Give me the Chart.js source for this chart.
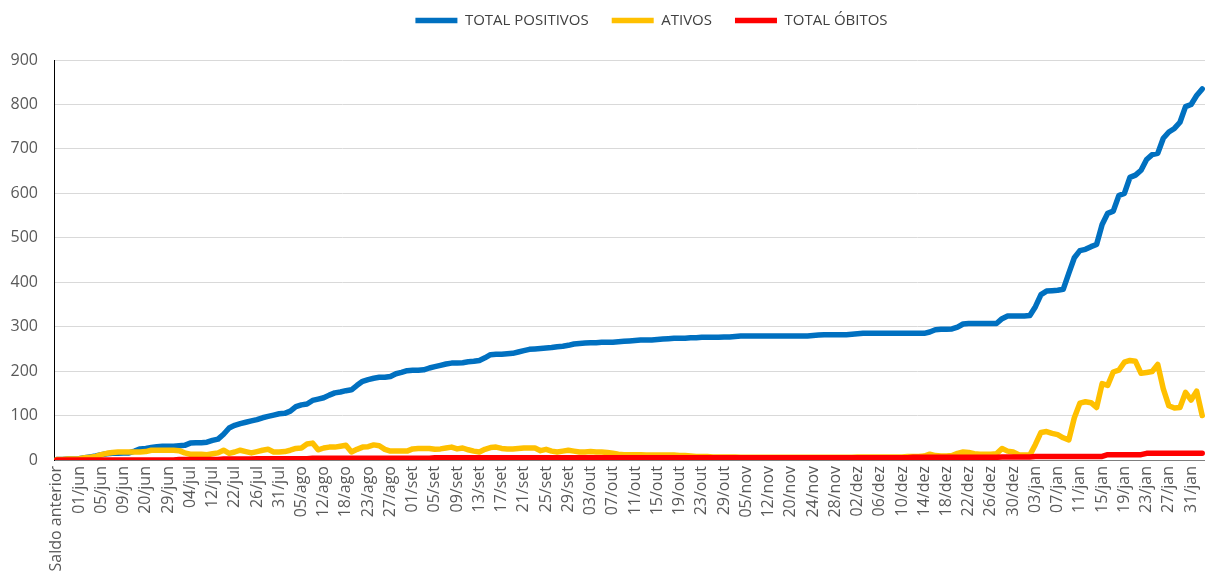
<!DOCTYPE html>
<html>
<head>
<meta charset="utf-8">
<script src="https://cdn.jsdelivr.net/npm/chart.js@4.4.1/dist/chart.umd.min.js"></script>
<style>
  html, body { margin: 0; padding: 0; background: #fff; }
  #wrap { width: 1205px; height: 575px; }
</style>
</head>
<body>
<div id="wrap"><canvas id="casesChart"></canvas></div>
<script>
// ─── Data ──────────────────────────────────────────────────────────────────────
// one tick label every 4 categories (as in the source spreadsheet)
const LABEL_STEP = 4;
const tickLabels = [
  "Saldo anterior","01/jun","05/jun","09/jun","20/jun","29/jun","04/jul","12/jul","22/jul","26/jul",
  "31/jul","05/ago","12/ago","18/ago","23/ago","27/ago","01/set","05/set","09/set","13/set",
  "17/set","21/set","25/set","29/set","03/out","07/out","11/out","15/out","19/out","23/out",
  "29/out","05/nov","12/nov","20/nov","24/nov","28/nov","02/dez","06/dez","10/dez","14/dez",
  "18/dez","22/dez","26/dez","30/dez","03/jan","07/jan","11/jan","15/jan","19/jan","23/jan",
  "27/jan","31/jan"
];

const totalPositivos = [
  1,1,2,2,3,5,7,9,12,14,
  15,15,16,16,20,25,26,28,30,31,
  31,31,32,33,38,39,39,40,44,47,
  58,72,78,82,85,88,91,95,98,101,
  104,105,110,120,124,126,134,137,140,146,
  151,153,156,158,168,177,181,184,186,186,
  188,194,197,201,202,202,203,207,210,213,
  216,218,218,219,221,222,224,230,237,238,
  238,239,240,243,246,249,250,251,252,253,
  255,256,258,261,262,263,264,264,265,265,
  265,266,267,268,269,270,270,270,271,272,
  273,274,274,274,275,275,276,276,276,276,
  277,277,278,279,279,279,279,279,279,279,
  279,279,279,279,279,279,280,281,282,282,
  282,282,282,283,284,285,285,285,285,285,
  285,285,285,285,285,285,285,288,293,294,
  294,295,299,306,307,307,307,307,307,307,
  318,324,324,324,324,325,345,372,380,381,
  382,384,420,455,471,474,480,485,530,555,
  560,595,600,636,641,652,676,687,690,724,
  738,746,760,795,800,820,835
];

const ativos = [
  1,1,2,2,3,5,6,8,12,15,
  17,18,18,18,18,18,19,22,22,22,
  22,22,21,16,13,13,13,12,14,16,
  22,15,18,22,19,16,19,22,24,18,
  18,19,22,26,27,36,38,23,27,29,
  29,31,33,18,24,29,30,34,32,24,
  20,20,20,20,25,26,26,26,24,25,
  27,29,25,27,23,20,18,24,28,29,
  26,25,25,26,27,27,27,21,24,20,
  18,20,22,20,18,18,19,18,18,17,
  15,13,12,12,12,12,11,11,11,11,
  11,11,10,10,9,8,8,8,7,7,
  7,7,7,6,6,6,6,6,6,6,
  6,6,6,6,6,6,6,6,6,6,
  6,6,6,6,7,7,7,7,7,7,
  7,7,7,8,8,8,9,13,10,9,
  9,10,15,18,17,14,13,13,13,14,
  26,20,18,12,11,11,35,62,64,60,
  57,50,45,95,128,131,129,118,172,168,
  198,202,220,224,222,195,197,199,215,160,
  122,117,118,152,135,155,100
];

const totalObitos = [
  0,0,0,0,0,0,0,0,0,0,
  0,0,0,0,0,0,0,0,0,0,
  0,0,1,1,1,1,1,1,1,1,
  2,2,2,2,2,2,3,3,3,3,
  3,3,3,3,3,3,4,4,4,4,
  4,4,4,4,4,4,4,4,4,4,
  4,4,4,4,4,4,4,4,5,5,
  5,5,5,5,5,5,5,5,5,5,
  5,5,5,5,5,5,5,5,5,5,
  5,5,5,5,5,5,5,5,5,5,
  5,5,5,5,5,5,5,5,5,5,
  5,5,5,5,5,5,5,5,5,5,
  5,5,5,5,5,5,5,5,5,5,
  5,5,5,5,5,5,5,5,5,5,
  5,5,5,5,5,5,5,5,5,5,
  5,5,5,5,6,6,6,6,6,6,
  6,6,6,6,6,6,6,6,6,6,
  7,7,7,7,7,7,8,8,8,8,
  8,8,8,8,8,8,8,8,8,12,
  12,12,12,12,12,12,15,15,15,15,
  15,15,15,15,15,15,15
];

const categories = totalPositivos.map((_, i) => i % LABEL_STEP === 0 ? tickLabels[i / LABEL_STEP] : "");

// ─── Chart ─────────────────────────────────────────────────────────────────────
Chart.defaults.font.family = "'Open Sans', sans-serif";
Chart.defaults.color = "#595959";

// fixed legend band so the plot starts where the original does; legend sits a bit right of centre
const legendBand = {
  id: "legendBand",
  beforeInit(chart) {
    const fit = chart.legend.fit;
    chart.legend.fit = function () { fit.call(this); this.height = 70; };
  },
  afterLayout(chart) {
    chart.legend.left += 49;
    chart.legend.right += 49;
  }
};

function series(label, data, color, order) {
  return {
    label, data,
    borderColor: color,
    backgroundColor: color,
    borderWidth: 5.5,
    borderCapStyle: "round",
    borderJoinStyle: "round",
    pointRadius: 0,
    tension: 0,
    fill: false,
    order
  };
}

new Chart(document.getElementById("casesChart"), {
  type: "line",
  data: {
    labels: categories,
    datasets: [
      series("TOTAL POSITIVOS", totalPositivos, "#0070C0", 3),
      series("ATIVOS", ativos, "#FFC000", 2),
      series("TOTAL ÓBITOS", totalObitos, "#FF0000", 1)
    ]
  },
  options: {
    responsive: true,
    maintainAspectRatio: false,
    animation: false,
    layout: { padding: { top: -10, left: 0, right: 0, bottom: 0 } },
    plugins: {
      legend: {
        position: "top",
        labels: {
          usePointStyle: true,
          pointStyle: "line",
          pointStyleWidth: 42,
          padding: 23,
          color: "#404040",
          font: { size: 15 },
          sort: (a, b) => a.datasetIndex - b.datasetIndex
        }
      },
      tooltip: { enabled: false }
    },
    scales: {
      x: {
        offset: true,
        grid: { display: false, drawTicks: false },
        border: { display: true, color: "#7f7f7f", width: 1 },
        ticks: {
          autoSkip: false,
          minRotation: 90,
          maxRotation: 90,
          padding: 6,
          color: "#595959",
          font: { size: 16 },
          callback: (v, i) => categories[i]
        },
        afterFit: s => { s.height = 115; s.paddingLeft = 0; s.paddingRight = 0; }
      },
      y: {
        min: 0,
        max: 900,
        ticks: { stepSize: 100, padding: 16, color: "#595959", font: { size: 16 } },
        grid: { color: "#d9d9d9", drawTicks: false },
        border: { display: true, color: "#000000", width: 1 },
        afterFit: s => { s.width = 54; }
      }
    }
  },
  plugins: [legendBand]
});
</script>
</body>
</html>
